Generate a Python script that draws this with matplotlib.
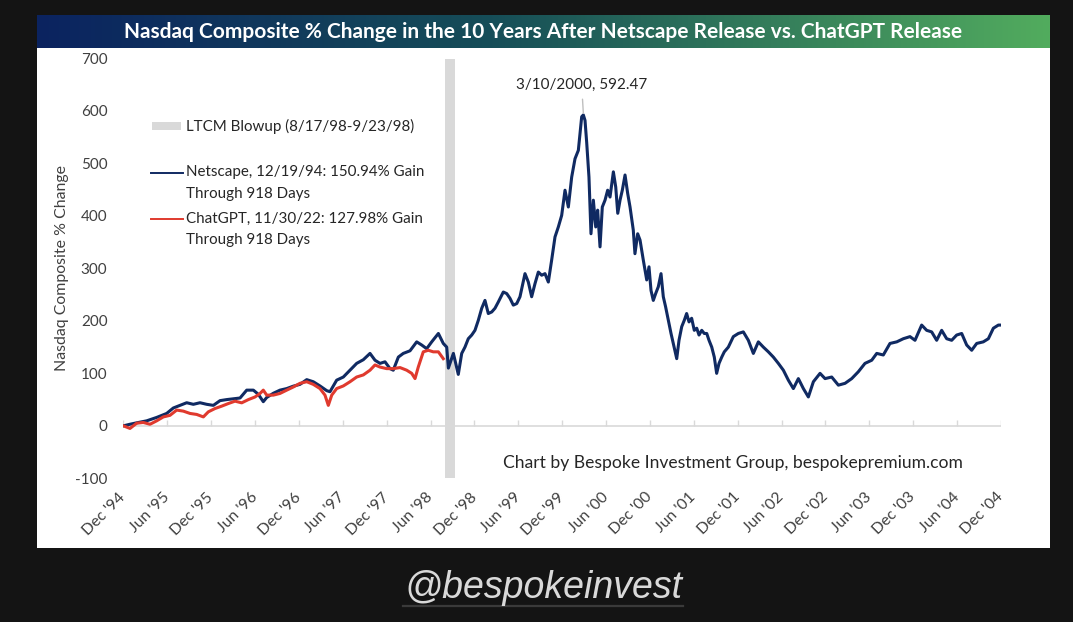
import numpy as np
import matplotlib
matplotlib.use("Agg")
import matplotlib.pyplot as plt
from matplotlib.patches import Rectangle
from matplotlib.lines import Line2D

# ---------------- data (years since release, % change) ----------------
netscape_t = [0.0, 0.075, 0.151, 0.265, 0.379, 0.493, 0.569, 0.645, 0.721, 0.797, 0.873, 0.949,
              1.025, 1.101, 1.177, 1.253, 1.329, 1.405, 1.481, 1.538, 1.594, 1.633, 1.708, 1.784,
              1.861, 1.936, 2.012, 2.089, 2.164, 2.240, 2.317, 2.354, 2.430, 2.506, 2.582, 2.658,
              2.734, 2.810, 2.867, 2.924, 2.981, 3.038, 3.075, 3.133, 3.189, 3.266, 3.342, 3.399,
              3.456, 3.513, 3.589, 3.645, 3.684, 3.703, 3.760,
              3.816, 3.855, 3.892, 3.930, 3.969, 4.006, 4.044, 4.083, 4.120, 4.158, 4.197, 4.234,
              4.272, 4.329, 4.368, 4.405, 4.443, 4.482, 4.519, 4.576, 4.614, 4.652, 4.690, 4.728,
              4.766, 4.804, 4.842, 4.880, 4.918, 4.956, 4.994, 5.032, 5.070, 5.108, 5.146, 5.184,
              5.222, 5.241,
              5.260, 5.279, 5.305, 5.328, 5.355, 5.382, 5.404, 5.431, 5.457, 5.488, 5.518, 5.545,
              5.583, 5.610, 5.633, 5.659, 5.685, 5.716, 5.746, 5.773, 5.810, 5.829, 5.860, 5.887,
              5.924, 5.963, 5.989, 6.012, 6.038, 6.065, 6.095, 6.126, 6.152, 6.178, 6.209, 6.240,
              6.266, 6.305, 6.331, 6.362, 6.391, 6.418, 6.445, 6.475, 6.505, 6.533, 6.559, 6.590,
              6.619, 6.647, 6.673, 6.704, 6.733, 6.760, 6.787, 6.818, 6.847,
              6.893, 6.950, 7.007, 7.064, 7.121, 7.178, 7.235, 7.292, 7.349,
              7.406, 7.463, 7.520, 7.577, 7.634, 7.691, 7.748, 7.805, 7.862, 7.938, 7.995, 8.071,
              8.147, 8.223, 8.299, 8.374, 8.450, 8.527, 8.584, 8.659, 8.735, 8.812, 8.887, 8.963,
              9.020, 9.096, 9.153, 9.210, 9.267, 9.324, 9.381, 9.438, 9.495, 9.552, 9.609, 9.666,
              9.723, 9.798, 9.856, 9.913, 9.970, 10.0]
netscape_v = [0, 3, 5.7, 9.5, 16, 23.6, 34, 39, 44, 41, 44, 41,
              39, 48, 50, 51.5, 53, 68, 68, 60, 46, 54, 62, 68,
              71, 75.6, 79, 88, 84, 76, 67, 65, 87, 93, 106, 119,
              126, 138, 125, 119, 122, 109, 106, 131, 138, 143, 160, 154,
              147, 160, 176, 157, 150, 110, 138,
              98, 138, 150, 166, 173, 182, 201, 224, 239, 214, 217, 224,
              236, 255, 252, 243, 230, 233, 246, 290, 274, 246, 271, 293,
              287, 290, 274, 316, 360, 379, 401, 449, 417, 474, 509, 525,
              589, 592.47,
              582, 540, 474, 366, 430, 379, 411, 341, 417, 430, 449, 436,
              484, 455, 405, 430, 449, 478, 443, 417, 373, 328, 366, 354,
              316, 278, 303, 258, 239, 252, 265, 290, 246, 227, 201, 176,
              157, 128, 163, 189, 201, 214, 198, 205, 182, 186, 173, 182,
              176, 176, 163, 150, 131, 100, 119, 131, 141,
              150, 170, 176, 179, 163, 138, 160, 150, 141,
              131, 119, 106, 87, 71, 90, 71, 55, 84, 100, 90, 93,
              77.5, 81, 90, 103, 119, 125, 138, 135, 157, 160, 166, 170,
              163, 192, 182, 179, 163, 182, 166, 163, 173, 176, 154, 144,
              157, 160, 166, 186, 192, 192]

chatgpt_t = [0.0, 0.075, 0.151, 0.227, 0.303, 0.379, 0.455, 0.531, 0.607, 0.683, 0.759, 0.835,
             0.911, 0.968, 1.044, 1.120, 1.196, 1.272, 1.348, 1.424, 1.500, 1.557, 1.594, 1.633,
             1.708, 1.784, 1.861, 1.936, 2.012, 2.089, 2.164, 2.240, 2.297, 2.335, 2.374, 2.430,
             2.506, 2.582, 2.658, 2.734, 2.810, 2.867, 2.924, 3.000, 3.075, 3.152, 3.228, 3.285,
             3.323, 3.360, 3.417, 3.474, 3.531, 3.589, 3.645]
chatgpt_v = [0, -5, 5, 6.4, 3, 9.5, 17, 20, 30, 28, 23.6, 21.7,
             17, 26.7, 33, 37.5, 42.5, 47, 43.8, 50, 55, 61.7, 68, 58.5,
             58.5, 61.7, 68, 74, 81, 84, 79, 71, 58.5, 39, 58.5, 71,
             76, 84, 93, 97, 106, 116, 112, 109, 109, 111, 106, 100,
             90, 112, 141, 144, 141, 141, 127.98]

ltcm_start, ltcm_end = 3.67, 3.78
peak_t, peak_v = 5.241, 592.47

x_ticks = [i * 0.5 for i in range(21)]
x_tick_labels = ["Dec '94", "Jun '95", "Dec '95", "Jun '96", "Dec '96", "Jun '97", "Dec '97",
                 "Jun '98", "Dec '98", "Jun '99", "Dec '99", "Jun '00", "Dec '00", "Jun '01",
                 "Dec '01", "Jun '02", "Dec '02", "Jun '03", "Dec '03", "Jun '04", "Dec '04"]
y_ticks = [-100, 0, 100, 200, 300, 400, 500, 600, 700]

title = "Nasdaq Composite % Change in the 10 Years After Netscape Release vs. ChatGPT Release"
legend_labels = ["LTCM Blowup (8/17/98-9/23/98)",
                 "Netscape, 12/19/94: 150.94% Gain", "Through 918 Days",
                 "ChatGPT, 11/30/22: 127.98% Gain", "Through 918 Days"]

NAVY = "#102a62"
RED = "#e03a2e"
BAND = "#d9d9d9"
TXT = "#404040"

W, H = 1073, 622
def fx(x):
    return x / W
def fy(y):
    return 1 - y / H

plt.rcParams['font.family'] = ['Lato', 'DejaVu Sans']

fig = plt.figure(figsize=(10.73, 6.22), dpi=100, facecolor="#141414")

# white panel
fig.add_artist(Rectangle((fx(37), fy(548)), fx(1050) - fx(37), fy(15) - fy(548),
                         transform=fig.transFigure, facecolor="white", edgecolor="none", zorder=0))

# title bar gradient
tax = fig.add_axes([fx(37), fy(48), fx(1050) - fx(37), fy(15) - fy(48)])
stops = np.array([[11, 35, 96], [22, 78, 88], [82, 172, 94]]) / 255.0
pos = np.array([0.0, 0.45, 1.0])
g = np.linspace(0, 1, 512)
grad = np.stack([np.interp(g, pos, stops[:, c]) for c in range(3)], axis=1)[None, :, :]
tax.imshow(grad, aspect="auto", extent=[0, 1, 0, 1])
tax.set_axis_off()
tax.text(0.5, 0.5, title, color="white", fontsize=15.0, fontweight="bold",
         ha="center", va="center", transform=tax.transAxes)

# main axes
ax = fig.add_axes([fx(123.4), fy(478.3), fx(1001) - fx(123.4), fy(58.5) - fy(478.3)])
ax.set_facecolor("none")
ax.set_xlim(0, 10)
ax.set_ylim(-100, 700)
for s in ax.spines.values():
    s.set_visible(False)

ax.axvspan(ltcm_start, ltcm_end, color=BAND, zorder=1, lw=0)
ax.axhline(0, color="#d9d9d9", lw=1.2, zorder=1)
ax.vlines(x_ticks, 0, 11, color="#d9d9d9", lw=1.0, zorder=1)

ax.plot(netscape_t, netscape_v, color=NAVY, lw=2.2, zorder=3, solid_joinstyle="round")
ax.plot(chatgpt_t, chatgpt_v, color=RED, lw=2.2, zorder=4, solid_joinstyle="round")

ax.set_yticks(y_ticks)
ax.set_yticklabels([str(v) for v in y_ticks], fontsize=11, color=TXT)
ax.tick_params(axis="y", length=0, pad=11.5)
ax.set_xticks(x_ticks)
ax.set_xticklabels(x_tick_labels, fontsize=11.3, color=TXT)
ax.tick_params(axis="x", length=0, pad=12)
plt.setp(ax.get_xticklabels(), rotation=45, ha="right", va="center", rotation_mode="anchor")

ax.annotate("3/10/2000, 592.47", xy=(peak_t, peak_v + 3), xytext=(5.222, 649),
            ha="center", va="center", fontsize=11, color="#262626",
            arrowprops=dict(arrowstyle="-", color="#bfbfbf", lw=1.0, shrinkA=3, shrinkB=0))

fig.text(fx(61.7), fy(268), "Nasdaq Composite % Change", rotation=90, ha="center", va="center",
         fontsize=11.4, color=TXT)

fig.text(fx(503), fy(463), "Chart by Bespoke Investment Group, bespokepremium.com",
         ha="left", va="center", fontsize=12.6, color="#262626")

# legend
fig.add_artist(Rectangle((fx(152), fy(130)), fx(181) - fx(152), fy(122) - fy(130),
                         transform=fig.transFigure, facecolor=BAND, edgecolor="none"))
fig.add_artist(Line2D([fx(151), fx(183)], [fy(172.7), fy(172.7)], transform=fig.transFigure,
                      color=NAVY, lw=1.4))
fig.add_artist(Line2D([fx(151), fx(183)], [fy(219), fy(219)], transform=fig.transFigure,
                      color=RED, lw=1.4))
for lbl, yy in zip(legend_labels, [126, 172, 194, 219, 240]):
    fig.text(fx(186), fy(yy), lbl, ha="left", va="center", fontsize=10.9, color="#262626")

# footer handle
fig.text(fx(543), fy(588), "@bespokeinvest", ha="center", va="center", fontsize=27,
         style="italic", family=["Liberation Sans", "DejaVu Sans"], color="#d9d9d9")
fig.add_artist(Line2D([fx(403), fx(683)], [fy(606), fy(606)], transform=fig.transFigure,
                      color="#3a3a3a", lw=1.6))

fig.savefig("out.png", dpi=100, facecolor=fig.get_facecolor())
